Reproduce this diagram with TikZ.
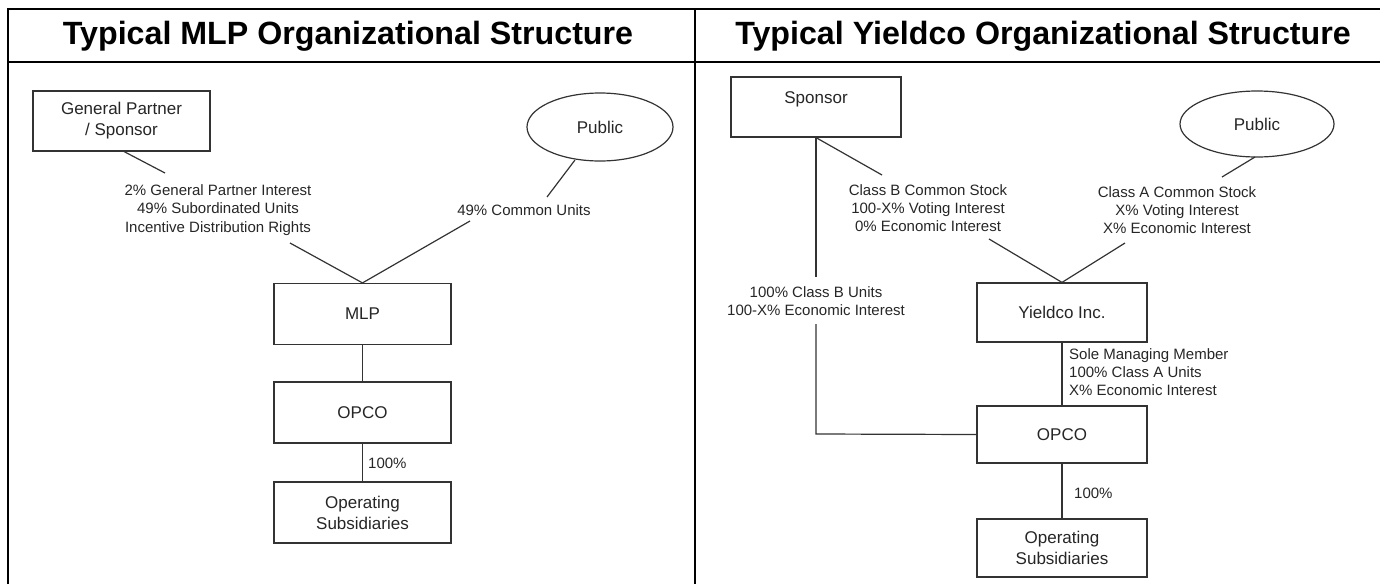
\documentclass[tikz,border=0pt]{standalone}
\usepackage{fontspec}
\setmainfont{Liberation Sans}
\usetikzlibrary{shapes.geometric}
\tikzset{
  frame/.style={line width=2.6pt, black},
  box/.style={draw=black!80, line width=1.2pt, fill=white, inner sep=0pt, align=center,
    text=black!85, font=\fontsize{17}{21}\selectfont},
  lbox/.style={box, minimum width=177pt, minimum height=61pt},
  rbox/.style={box, minimum width=170pt, minimum height=59pt},
  oval/.style={draw=black!80, line width=1.2pt, ellipse, inner sep=0pt, text=black!85,
    font=\fontsize{17}{21}\selectfont},
  lbl/.style={inner sep=0pt, align=center, text=black!85, font=\fontsize{15}{18.3}\selectfont},
  lbll/.style={lbl, align=left, anchor=west},
  conn/.style={draw=black!80, line width=1.2pt},
  title/.style={inner sep=0pt, font=\bfseries\fontsize{32.2}{36}\selectfont}
}
\begin{document}
\begin{tikzpicture}[x=1pt,y=-1pt]
\useasboundingbox (0,0) rectangle (1380,584);
% frame
\draw[frame] (8,584) -- (8,9) -- (1380,9);
\draw[frame] (8,62) -- (1380,62);
\draw[frame] (695,9) -- (695,584);
\node[title] (t1) at (348,36) {Typical MLP Organizational Structure};
\node[title] (t2) at (1043,36) {Typical Yieldco Organizational Structure};

% ---------- left panel ----------
\node[lbox, minimum height=60pt] (gp) at (121.5,121) {General Partner\\/ Sponsor};
\node[oval, minimum width=146pt, minimum height=68pt] (pub1) at (600,127) {Public};
\node[lbox] (mlp) at (362.5,314) {MLP};
\node[lbox] (opco1) at (362.5,412.5) {OPCO};
\node[lbox] (os1) at (362.5,512.5) {Operating\\Subsidiaries};

\node[lbl] (gpl) at (218,210) {2\% General Partner Interest\\49\% Subordinated Units\\Incentive Distribution Rights};
\node[lbl] (cul) at (524,210) {49\% Common Units};
\node[lbll] (p1) at (368,463) {100\%};

\coordinate (gpA) at (123,151);
\coordinate (gpB) at (165,173);
\coordinate (gpC) at (290,243);
\coordinate (cuA) at (575,160);
\coordinate (cuB) at (547,197);
\coordinate (cuC) at (470,221);

\draw[conn] (gpA) -- (gpB);
\draw[conn] (gpC) -- (mlp.north);
\draw[conn] (cuA) -- (cuB);
\draw[conn] (cuC) -- (mlp.north);
\draw[conn] (mlp.south) -- (opco1.north);
\draw[conn] (opco1.south) -- (os1.north);

% ---------- right panel ----------
\node[rbox, minimum height=60pt] (sp) at (816,107) {};
\node[lbl, font=\fontsize{17}{21}\selectfont] (spt) at (816,99) {Sponsor};
\node[oval, minimum width=154pt, minimum height=66pt] (pub2) at (1257,124) {Public};
\node[rbox] (yc) at (1062,312.5) {Yieldco Inc.};
\node[rbox, minimum height=57pt] (opco2) at (1062,434.5) {OPCO};
\node[rbox, minimum height=58pt] (os2) at (1062,548) {Operating\\Subsidiaries};

\node[lbl] (cbl) at (928,208) {Class B Common Stock\\100-X\% Voting Interest\\0\% Economic Interest};
\node[lbl] (cal) at (1177,210) {Class A Common Stock\\X\% Voting Interest\\X\% Economic Interest};
\node[lbl] (cbu) at (816,301) {100\% Class B Units\\100-X\% Economic Interest};
\node[lbll] (sml) at (1069,372) {Sole Managing Member\\100\% Class A Units\\X\% Economic Interest};
\node[lbll] (p2) at (1074,493) {100\%};

\coordinate (cbA) at (882,175);
\coordinate (cbB) at (989,239);
\coordinate (caA) at (1255,157);
\coordinate (caB) at (1222,177);
\coordinate (caC) at (1125,243);
\coordinate (cuU) at (816,277);
\coordinate (cuD) at (816,324);
\coordinate (cuE) at (816,434);

\draw[conn] (sp.south) -- (cbA);
\draw[conn] (cbB) -- (yc.north);
\draw[conn] (caA) -- (caB);
\draw[conn] (caC) -- (yc.north);
\draw[conn] (sp.south) -- (cuU);
\draw[conn] (cuD) -- (cuE) -- (opco2.west);
\draw[conn] (yc.south) -- (opco2.north);
\draw[conn] (opco2.south) -- (os2.north);
\end{tikzpicture}
\end{document}
